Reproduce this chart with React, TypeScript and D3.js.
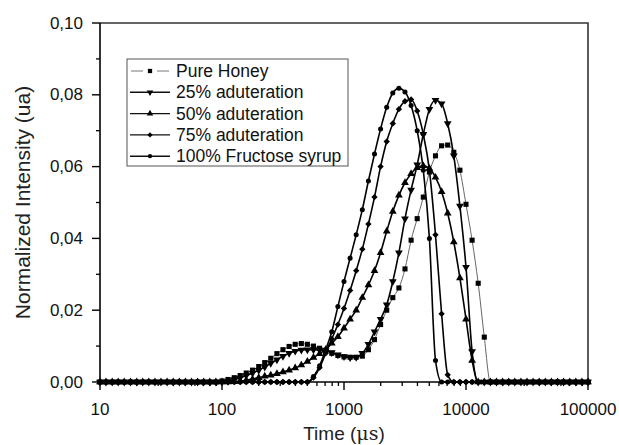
import React from 'react';
import * as d3 from 'd3';

// time grid (µs), 20 points per decade
const times = [
  10, 11.2, 12.6, 14.1, 15.8, 17.8, 20, 22.4, 25.1, 28.2,
  31.6, 35.5, 39.8, 44.7, 50.1, 56.2, 63.1, 70.8, 79.4, 89.1,
  100, 112, 126, 141, 158, 178, 200, 224, 251, 282,
  316, 355, 398, 447, 501, 562, 631, 708, 794, 891,
  1000, 1122, 1259, 1413, 1585, 1778, 1995, 2239, 2512, 2818,
  3162, 3548, 3981, 4467, 5012, 5623, 6310, 7079, 7943, 8913,
  10000, 11220, 12589, 14125, 15849, 17783, 19953, 22387, 25119, 28184,
  31623, 35481, 39811, 44668, 50119, 56234, 63096, 70795, 79433, 89125,
  100000,
];

const pureHoney = [
  0, 0, 0, 0, 0, 0, 0, 0, 0, 0,
  0, 0, 0, 0, 0, 0, 0, 0, 0, 0,
  0.0003, 0.0007, 0.0012, 0.0018, 0.0025, 0.0033, 0.0043, 0.0054, 0.0066, 0.0079,
  0.0090, 0.0099, 0.0105, 0.0107, 0.0105, 0.0100, 0.0094, 0.0088, 0.0080, 0.0074,
  0.0070, 0.0069, 0.0069, 0.0072, 0.0090, 0.0118, 0.0160, 0.0200, 0.0235, 0.0262,
  0.0315, 0.0395, 0.0455, 0.0515, 0.0585, 0.0630, 0.0658, 0.0660, 0.0640, 0.0590,
  0.0495, 0.0395, 0.0275, 0.0125, 0, 0, 0, 0, 0, 0,
  0, 0, 0, 0, 0, 0, 0, 0, 0, 0,
  0,
];

const adult25 = [
  0, 0, 0, 0, 0, 0, 0, 0, 0, 0,
  0, 0, 0, 0, 0, 0, 0, 0, 0, 0,
  0, 0.0003, 0.0007, 0.0012, 0.0018, 0.0025, 0.0033, 0.0042, 0.0052, 0.0062,
  0.0072, 0.0080, 0.0086, 0.0089, 0.0090, 0.0090, 0.0089, 0.0087, 0.0082, 0.0076,
  0.0071, 0.0068, 0.0069, 0.0080, 0.0105, 0.0140, 0.0175, 0.0215, 0.0280, 0.0360,
  0.0455, 0.0535, 0.0605, 0.0690, 0.0760, 0.0785, 0.0775, 0.0720, 0.0630, 0.0490,
  0.0320, 0.0085, 0, 0, 0, 0, 0, 0, 0, 0,
  0, 0, 0, 0, 0, 0, 0, 0, 0, 0,
  0,
];

const adult50 = [
  0, 0, 0, 0, 0, 0, 0, 0, 0, 0,
  0, 0, 0, 0, 0, 0, 0, 0, 0, 0,
  0, 0, 0.0001, 0.0003, 0.0005, 0.0008, 0.0012, 0.0016, 0.0019, 0.0023,
  0.0028, 0.0033, 0.0039, 0.0047, 0.0057, 0.0068, 0.0079, 0.0090, 0.0108, 0.0126,
  0.0150, 0.0175, 0.0200, 0.0235, 0.0270, 0.0310, 0.0360, 0.0420, 0.0475, 0.0520,
  0.0555, 0.0580, 0.0597, 0.0602, 0.0595, 0.0570, 0.0530, 0.0470, 0.0390, 0.0290,
  0.0175, 0.0060, 0, 0, 0, 0, 0, 0, 0, 0,
  0, 0, 0, 0, 0, 0, 0, 0, 0, 0,
  0,
];

const adult75 = [
  0, 0, 0, 0, 0, 0, 0, 0, 0, 0,
  0, 0, 0, 0, 0, 0, 0, 0, 0, 0,
  0, 0, 0, 0, 0, 0, 0, 0, 0, 0,
  0, 0, 0, 0, 0, 0.0012, 0.0040, 0.0080, 0.0120, 0.0160,
  0.0205, 0.0255, 0.0310, 0.0370, 0.0440, 0.0515, 0.0600, 0.0670, 0.0720, 0.0760,
  0.0782, 0.0787, 0.0755, 0.0690, 0.0590, 0.0410, 0.0190, 0.0020, 0, 0,
  0, 0, 0, 0, 0, 0, 0, 0, 0, 0,
  0, 0, 0, 0, 0, 0, 0, 0, 0, 0,
  0,
];

const fructose = [
  0, 0, 0, 0, 0, 0, 0, 0, 0, 0,
  0, 0, 0, 0, 0, 0, 0, 0, 0, 0,
  0, 0, 0, 0, 0, 0, 0, 0, 0, 0,
  0, 0, 0, 0, 0, 0.0015, 0.0045, 0.0090, 0.0140, 0.0210,
  0.0280, 0.0345, 0.0410, 0.0480, 0.0560, 0.0635, 0.0705, 0.0765, 0.0805, 0.0818,
  0.0808, 0.0770, 0.0700, 0.0590, 0.0400, 0.0060, 0, 0, 0, 0,
  0, 0, 0, 0, 0, 0, 0, 0, 0, 0,
  0, 0, 0, 0, 0, 0, 0, 0, 0, 0,
  0,
];

const seriesNames = ['Pure Honey', '25% aduteration', '50% aduteration', '75% aduteration', '100% Fructose syrup'];
const yTicks = [0, 0.02, 0.04, 0.06, 0.08, 0.1];
const yMinor = [0.01, 0.03, 0.05, 0.07, 0.09];
const xMajor = [10, 100, 1000, 10000, 100000];

const W = 619, H = 445;
const left = 100, right = 588, top = 23, bottom = 382;
const font = 'Arial, "Liberation Sans", sans-serif';

const series = [
  { name: seriesNames[0], values: pureHoney, symbol: d3.symbolSquare, size: 26, rot: 0, stroke: '#666', width: 1 },
  { name: seriesNames[1], values: adult25, symbol: d3.symbolTriangle, size: 26, rot: 180, stroke: '#000', width: 1.6 },
  { name: seriesNames[2], values: adult50, symbol: d3.symbolTriangle, size: 26, rot: 0, stroke: '#000', width: 1.6 },
  { name: seriesNames[3], values: adult75, symbol: d3.symbolSquare, size: 20, rot: 45, stroke: '#000', width: 1.6 },
  { name: seriesNames[4], values: fructose, symbol: d3.symbolCircle, size: 20, rot: 0, stroke: '#000', width: 1.6 },
];

export default function App() {
  const x = d3.scaleLog().domain([10, 100000]).range([left, right]);
  const y = d3.scaleLinear().domain([0, 0.1]).range([bottom, top]);
  const line = d3.line<number>()
    .x((_, i) => x(times[i]))
    .y(v => y(v))
    .curve(d3.curveMonotoneX);

  const xMinor = x.ticks().filter(t => !xMajor.includes(t));
  const fmt = (v: number) => v.toFixed(2).replace('.', ',');

  return (
    <svg width={W} height={H} style={{ position: 'absolute', left: 0, top: 0, background: '#fff' }} fontFamily={font}>
      <rect x={0} y={0} width={W} height={H} fill="#fff" />
      {/* frame */}
      <path d={`M${left},${top}H${right}V${bottom}`} fill="none" stroke="#333" strokeWidth={1.6} />

      {/* series */}
      {series.map(s => (
        <g key={s.name}>
          <path d={line(s.values) || ''} fill="none" stroke={s.stroke} strokeWidth={s.width} />
          {s.values.map((v, i) => (
            <path key={i}
              d={d3.symbol().type(s.symbol).size(s.size)() || ''}
              transform={`translate(${x(times[i])},${y(v)}) rotate(${s.rot})`}
              fill="#000" />
          ))}
        </g>
      ))}

      {/* y axis */}
      <line x1={left} x2={left} y1={top} y2={bottom} stroke="#000" strokeWidth={1.6} />
      {yTicks.map(t => (
        <g key={t}>
          <line x1={left - 8} x2={left} y1={y(t)} y2={y(t)} stroke="#000" strokeWidth={1.4} />
          <text x={left - 17} y={y(t)} textAnchor="end" dominantBaseline="central" fontSize={17} fill="#111">{fmt(t)}</text>
        </g>
      ))}
      {yMinor.map(t => (
        <line key={t} x1={left - 4} x2={left} y1={y(t)} y2={y(t)} stroke="#000" strokeWidth={1.3} />
      ))}

      {/* x axis */}
      <line x1={left} x2={right} y1={bottom} y2={bottom} stroke="#000" strokeWidth={1.6} />
      {xMajor.map(t => (
        <g key={t}>
          <line x1={x(t)} x2={x(t)} y1={bottom} y2={bottom + 8} stroke="#000" strokeWidth={1.4} />
          <text x={x(t)} y={415} textAnchor="middle" fontSize={17} fill="#111">{t}</text>
        </g>
      ))}
      {xMinor.map(t => (
        <line key={t} x1={x(t)} x2={x(t)} y1={bottom} y2={bottom + 4} stroke="#000" strokeWidth={1.3} />
      ))}

      {/* titles */}
      <text x={(left + right) / 2} y={440} textAnchor="middle" fontSize={19} fill="#222">
        Time (<tspan fontFamily='"DejaVu Serif", serif'>μs</tspan>)
      </text>
      <text transform={`translate(30,${(top + bottom) / 2}) rotate(-90)`} textAnchor="middle" fontSize={21} fill="#222">
        Normalized Intensity (ua)
      </text>

      {/* legend */}
      <rect x={127} y={59} width={221} height={107} fill="#fff" stroke="#555" strokeWidth={1} />
      {series.map((s, i) => {
        const cy = 71 + i * 21.3;
        return (
          <g key={s.name}>
            {i === 0 ? (
              <>
                <line x1={131} x2={143} y1={cy} y2={cy} stroke="#777" strokeWidth={1} />
                <line x1={157} x2={169} y1={cy} y2={cy} stroke="#777" strokeWidth={1} />
              </>
            ) : (
              <line x1={130} x2={170} y1={cy} y2={cy} stroke="#111" strokeWidth={1.4} />
            )}
            <path d={d3.symbol().type(s.symbol).size(s.size * 0.7)() || ''}
              transform={`translate(150,${cy}) rotate(${s.rot})`} fill="#000" />
            <text x={176} y={cy} dominantBaseline="central" fontSize={17.5} fill="#111">{s.name}</text>
          </g>
        );
      })}
    </svg>
  );
}
